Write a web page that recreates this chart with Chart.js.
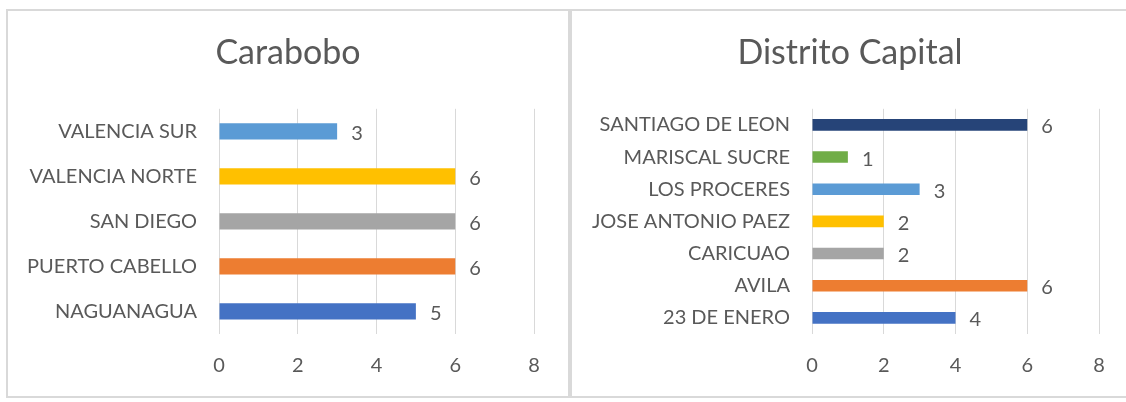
<!DOCTYPE html>
<html>
<head>
<meta charset="utf-8">
<script src="https://cdn.jsdelivr.net/npm/chart.js@4.4.0/dist/chart.umd.min.js"></script>
<style>
  body { margin:0; background:#fff; width:1126px; height:402px; overflow:hidden; position:relative; }
  .box { position:absolute; top:9px; height:389px; border:2px solid #d9d9d9; box-sizing:border-box; background:#fff; }
  #boxA { left:6px; width:564px; }
  #boxB { left:570px; width:560px; }
  canvas { display:block; }
</style>
</head>
<body>
<div class="box" id="boxA"><canvas id="chartA" width="560" height="385"></canvas></div>
<div class="box" id="boxB"><canvas id="chartB" width="556" height="385"></canvas></div>
<script>
// Carabobo (top to bottom)
const carabLabels = ['VALENCIA SUR', 'VALENCIA NORTE', 'SAN DIEGO', 'PUERTO CABELLO', 'NAGUANAGUA'];
const carabValues = [3, 6, 6, 6, 5];
const carabColors = ['#5B9BD5', '#FFC000', '#A5A5A5', '#ED7D31', '#4472C4'];

// Distrito Capital (top to bottom)
const dcLabels = ['SANTIAGO DE LEON', 'MARISCAL SUCRE', 'LOS PROCERES', 'JOSE ANTONIO PAEZ', 'CARICUAO', 'AVILA', '23 DE ENERO'];
const dcValues = [6, 1, 3, 2, 2, 6, 4];
const dcColors = ['#264478', '#70AD47', '#5B9BD5', '#FFC000', '#A5A5A5', '#ED7D31', '#4472C4'];

const xTicks = [0, 2, 4, 6, 8];

const FONT = 'Lato, "Open Sans", sans-serif';
const TXT = '#595959';

// draws the value to the right of each bar
const valueLabels = {
  id: 'valueLabels',
  afterDatasetsDraw(chart){
    const ctx = chart.ctx;
    ctx.save();
    ctx.font = '20px ' + FONT;
    ctx.fillStyle = TXT;
    ctx.textAlign = 'left';
    ctx.textBaseline = 'middle';
    chart.getDatasetMeta(0).data.forEach((bar, i) => {
      ctx.fillText(chart.data.datasets[0].data[i], bar.x + 14, bar.y + 2);
    });
    ctx.restore();
  }
};

function makeChart(id, title, labels, values, colors, yWidth, rightGap){
  new Chart(document.getElementById(id), {
    type: 'bar',
    data: { labels, datasets: [{ data: values, backgroundColor: colors, categoryPercentage: 1, barPercentage: 0.36 }] },
    options: {
      indexAxis: 'y',
      responsive: false,
      animation: false,
      layout: { padding: 0 },
      plugins: {
        legend: { display: false },
        tooltip: { enabled: false },
        title: { display: true, text: title, color: TXT, font: { family: FONT, size: 34, weight: 'normal' }, padding: { top: 22, bottom: 35 } }
      },
      scales: {
        x: {
          min: 0, max: 8,
          afterBuildTicks: s => { s.ticks = xTicks.map(v => ({ value: v })); },
          grid: { color: '#d9d9d9', lineWidth: 1, drawTicks: false },
          border: { display: false },
          ticks: { color: TXT, padding: 20, font: { family: FONT, size: 20 } },
          afterFit: s => { s.height = 62; }
        },
        y: {
          grid: { display: false, drawTicks: false },
          border: { display: false },
          ticks: { color: TXT, padding: 22, font: { family: FONT, size: 20 } },
          afterFit: s => { s.width = yWidth; }
        },
        // empty axis keeping the gap on the right so the title stays centred
        yRight: {
          type: 'category',
          position: 'right',
          grid: { display: false, drawTicks: false },
          border: { display: false },
          ticks: { display: false },
          afterFit: s => { s.width = rightGap; }
        }
      }
    },
    plugins: [valueLabels]
  });
}

makeChart('chartA', 'Carabobo', carabLabels, carabValues, carabColors, 211, 34);
makeChart('chartB', 'Distrito Capital', dcLabels, dcValues, dcColors, 240, 29);
</script>
</body>
</html>
